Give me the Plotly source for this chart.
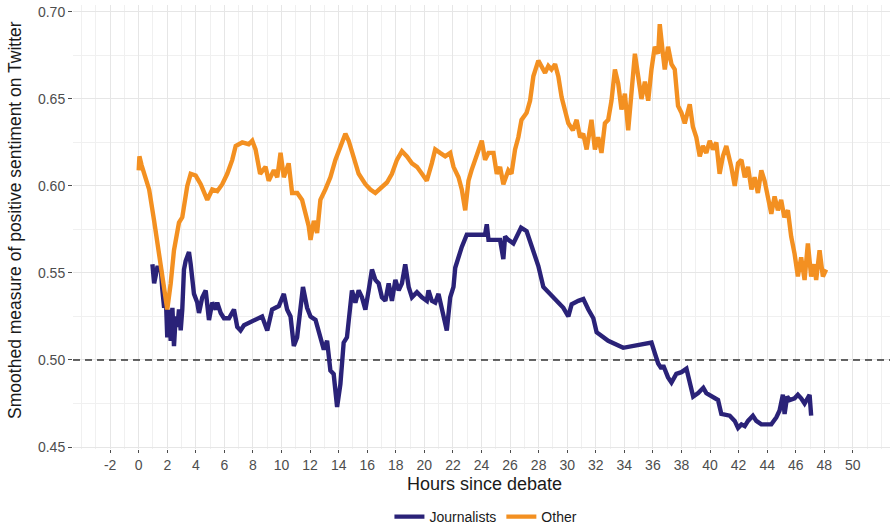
import plotly.graph_objects as go

# ---- data ----
other_hours = [0.00, 0.05, 0.20, 0.38, 0.73, 1.08, 1.43, 1.78, 2.00, 2.24, 2.47, 2.82, 3.05, 3.40, 3.64, 3.99,
               4.34, 4.80, 5.15, 5.50, 5.85, 6.20, 6.55, 6.79, 7.25, 7.70, 7.95, 8.18, 8.50, 8.88, 9.10, 9.46,
               9.70, 9.93, 10.16, 10.50, 10.74, 11.10, 11.44, 11.56, 11.90, 12.03, 12.26, 12.49, 12.72, 13.07,
               13.42, 13.77, 14.12, 14.47, 14.70, 15.05, 15.40, 15.87, 16.22, 16.57, 17.03, 17.38, 17.73, 18.08,
               18.43, 18.78, 19.13, 19.48, 19.83, 20.17, 20.52, 20.76, 21.10, 21.46, 21.81, 22.04, 22.39, 22.62,
               22.86, 23.09, 23.30, 23.67, 24.02, 24.25, 24.49, 24.84, 25.07, 25.30, 25.53, 25.88, 26.10, 26.35,
               26.58, 26.80, 27.16, 27.40, 27.63, 27.98, 28.21, 28.45, 28.68, 28.90, 29.15, 29.38, 29.61, 29.85,
               30.08, 30.40, 30.66, 30.90, 31.12, 31.36, 31.60, 31.70, 31.94, 32.17, 32.40, 32.64, 32.87, 33.10,
               33.34, 33.57, 33.80, 34.04, 34.27, 34.50, 34.74, 34.97, 35.20, 35.44, 35.67, 35.90, 36.13, 36.37,
               36.48, 36.70, 36.83, 37.06, 37.30, 37.53, 37.76, 38.00, 38.23, 38.58, 38.80, 39.04, 39.28, 39.50,
               39.74, 39.98, 40.20, 40.44, 40.67, 40.90, 41.14, 41.49, 41.73, 41.96, 42.20, 42.43, 42.66, 42.90,
               43.12, 43.35, 43.59, 43.82, 44.05, 44.29, 44.52, 44.75, 44.98, 45.20, 45.45, 45.68, 45.92, 46.15,
               46.38, 46.62, 46.85, 47.08, 47.30, 47.43, 47.67, 47.90, 48.13]
other_values = [0.609, 0.617, 0.612, 0.607, 0.598, 0.580, 0.561, 0.542, 0.529, 0.544, 0.563, 0.579, 0.582, 0.600, 0.607, 0.606,
                0.601, 0.592, 0.598, 0.597, 0.601, 0.607, 0.615, 0.623, 0.625, 0.624, 0.626, 0.621, 0.607, 0.611, 0.603, 0.609,
                0.605, 0.619, 0.605, 0.613, 0.596, 0.596, 0.592, 0.588, 0.577, 0.569, 0.580, 0.573, 0.592, 0.598,
                0.605, 0.615, 0.623, 0.630, 0.626, 0.617, 0.607, 0.601, 0.598, 0.596, 0.599, 0.602, 0.607, 0.615,
                0.620, 0.617, 0.613, 0.611, 0.607, 0.603, 0.613, 0.621, 0.619, 0.617, 0.619, 0.611, 0.605, 0.598,
                0.586, 0.603, 0.609, 0.617, 0.626, 0.615, 0.619, 0.619, 0.607, 0.611, 0.601, 0.609, 0.607, 0.621,
                0.628, 0.638, 0.642, 0.649, 0.663, 0.672, 0.669, 0.665, 0.669, 0.667, 0.670, 0.663, 0.651, 0.642,
                0.636, 0.632, 0.638, 0.628, 0.630, 0.621, 0.634, 0.638, 0.621, 0.628, 0.619, 0.636, 0.638, 0.649,
                0.667, 0.659, 0.644, 0.653, 0.632, 0.653, 0.676, 0.663, 0.650, 0.660, 0.649, 0.667, 0.680, 0.676,
                0.693, 0.676, 0.667, 0.680, 0.670, 0.667, 0.646, 0.642, 0.636, 0.647, 0.634, 0.628, 0.617, 0.623,
                0.619, 0.626, 0.621, 0.625, 0.607, 0.617, 0.623, 0.611, 0.600, 0.613, 0.615, 0.605, 0.611, 0.598,
                0.605, 0.596, 0.609, 0.603, 0.594, 0.584, 0.594, 0.586, 0.592, 0.582, 0.586, 0.571, 0.561, 0.548,
                0.559, 0.546, 0.567, 0.548, 0.555, 0.546, 0.563, 0.548, 0.552]

journalists_hours = [0.96, 1.08, 1.30, 1.54, 1.66, 1.78, 1.90, 2.00, 2.12, 2.24, 2.36, 2.47, 2.59, 2.71, 2.82, 2.94,
                     3.05, 3.17, 3.29, 3.52, 3.64, 3.87, 4.10, 4.22, 4.45, 4.69, 4.92, 5.15, 5.39, 5.50, 5.74, 5.97,
                     6.32, 6.67, 6.90, 7.13, 7.37, 7.95, 8.64, 9.00, 9.34, 9.81, 10.16, 10.39, 10.63, 10.86, 11.09,
                     11.50, 11.79, 12.03, 12.38, 12.72, 12.96, 13.19, 13.42, 13.65, 13.89, 14.12, 14.35, 14.58, 14.82,
                     14.93, 15.17, 15.40, 15.63, 15.87, 16.10, 16.33, 16.57, 16.80, 17.03, 17.27, 17.50, 17.73, 17.97,
                     18.20, 18.43, 18.66, 18.90, 19.13, 19.48, 19.83, 20.17, 20.29, 20.52, 20.76, 20.99, 21.22, 21.57,
                     21.81, 22.04, 22.16, 22.39, 22.62, 22.97, 24.25, 24.37, 24.49, 25.30, 25.53, 25.65, 25.88, 26.23,
                     26.46, 26.77, 27.16, 27.51, 27.98, 28.33, 28.90, 29.38, 29.73, 30.08, 30.31, 30.78, 31.13, 31.48,
                     31.83, 32.06, 32.87, 33.92, 35.90, 36.13, 36.37, 36.60, 36.72, 37.06, 37.30, 37.64, 38.00, 38.35,
                     38.58, 38.82, 39.17, 39.53, 39.74, 40.21, 40.56, 40.79, 41.38, 41.73, 41.96, 42.20, 42.43, 42.66,
                     43.00, 43.24, 43.59, 44.29, 44.64, 44.87, 45.10, 45.22, 45.40, 45.57, 45.92, 46.15, 46.38, 46.62,
                     46.97, 47.08]
journalists_values = [0.555, 0.544, 0.553, 0.553, 0.540, 0.530, 0.536, 0.513, 0.529, 0.511, 0.530, 0.508, 0.525, 0.519, 0.529, 0.517,
                      0.529, 0.552, 0.557, 0.562, 0.555, 0.538, 0.533, 0.527, 0.536, 0.540, 0.523, 0.533, 0.529, 0.533, 0.527, 0.524,
                      0.524, 0.529, 0.519, 0.517, 0.520, 0.522, 0.525, 0.517, 0.529, 0.531, 0.538, 0.529, 0.525, 0.508, 0.513,
                      0.542, 0.530, 0.525, 0.523, 0.513, 0.506, 0.511, 0.494, 0.492, 0.473, 0.486, 0.510, 0.513, 0.533,
                      0.540, 0.533, 0.540, 0.536, 0.529, 0.540, 0.552, 0.546, 0.544, 0.536, 0.534, 0.544, 0.534, 0.546,
                      0.540, 0.544, 0.555, 0.542, 0.536, 0.539, 0.536, 0.534, 0.540, 0.534, 0.533, 0.538, 0.529, 0.517,
                      0.536, 0.542, 0.553, 0.559, 0.565, 0.572, 0.572, 0.578, 0.569, 0.569, 0.558, 0.571, 0.569, 0.567,
                      0.571, 0.576, 0.574, 0.565, 0.554, 0.542, 0.537, 0.533, 0.530, 0.525, 0.532, 0.534, 0.535, 0.529,
                      0.524, 0.516, 0.511, 0.507, 0.510, 0.504, 0.498, 0.495, 0.497, 0.490, 0.487, 0.492, 0.493, 0.495,
                      0.487, 0.479, 0.481, 0.484, 0.481, 0.479, 0.477, 0.469, 0.468, 0.465, 0.461, 0.463, 0.462, 0.465,
                      0.468, 0.465, 0.463, 0.463, 0.467, 0.471, 0.480, 0.469, 0.479, 0.477, 0.478, 0.480, 0.478, 0.475,
                      0.480, 0.468]

reference_level = 0.5
x_ticks = list(range(-2, 51, 2))
y_ticks = [0.45, 0.50, 0.55, 0.60, 0.65, 0.70]
y_tick_labels = ["0.45", "0.50", "0.55", "0.60", "0.65", "0.70"]

NAVY = "#2A2278"
ORANGE = "#F39021"
FONT = "Liberation Sans, Arial, sans-serif"
X_RANGE = [-4.6, 52.6]

fig = go.Figure()

# dashed reference line across the full x range
fig.add_trace(go.Scatter(
    x=X_RANGE, y=[reference_level, reference_level], mode="lines",
    line=dict(color="#333333", width=1.6, dash="7px,5px"),
    showlegend=False, hoverinfo="skip"))

fig.add_trace(go.Scatter(
    x=journalists_hours, y=journalists_values, mode="lines", name="Journalists",
    line=dict(color=NAVY, width=4.4)))
fig.add_trace(go.Scatter(
    x=other_hours, y=other_values, mode="lines", name="Other",
    line=dict(color=ORANGE, width=4.4)))

fig.update_layout(
    width=890, height=527,
    margin=dict(l=73, r=0, t=5, b=78, autoexpand=False),
    paper_bgcolor="white", plot_bgcolor="white",
    font=dict(family=FONT, size=14, color="#4d4d4d"),
    showlegend=True,
    legend=dict(orientation="h", x=0.546, xref="container", xanchor="center",
                y=0.019, yref="container", yanchor="middle",
                font=dict(size=14, color="#1a1a1a"), itemwidth=30, traceorder="normal"),
    xaxis=dict(
        range=X_RANGE, tickmode="array", tickvals=x_ticks,
        ticktext=[str(v) for v in x_ticks], automargin=False,
        showgrid=True, gridcolor="#e6e6e6", gridwidth=1,
        minor=dict(dtick=1, tick0=0, showgrid=True, gridcolor="#f0f0f0", gridwidth=1),
        zeroline=False, showline=False,
        ticks="outside", ticklen=3, tickcolor="#4d4d4d", tickwidth=1,
        tickfont=dict(size=14, color="#4d4d4d"),
    ),
    yaxis=dict(
        range=[0.44885, 0.704], tickmode="array", tickvals=y_ticks, ticktext=y_tick_labels,
        automargin=False,
        showgrid=True, gridcolor="#e6e6e6", gridwidth=1,
        minor=dict(dtick=0.025, tick0=0.45, showgrid=True, gridcolor="#f0f0f0", gridwidth=1),
        zeroline=False, showline=False,
        ticks="outside", ticklen=4, tickcolor="#4d4d4d", tickwidth=1,
        tickfont=dict(size=14, color="#4d4d4d"),
    ),
    annotations=[
        dict(text="Hours since debate", xref="paper", yref="paper", x=0.504, y=-0.079,
             xanchor="center", yanchor="middle", showarrow=False,
             font=dict(size=18, color="#1a1a1a", family=FONT)),
        dict(text="Smoothed measure of positive sentiment on Twitter", xref="paper", yref="paper",
             x=-0.071, y=0.516, xanchor="center", yanchor="middle", textangle=-90, showarrow=False,
             font=dict(size=17.5, color="#1a1a1a", family=FONT)),
    ],
)

fig.write_html("out.html",
               config={"displayModeBar": False},
               post_script="document.body.style.margin='0';document.body.style.overflow='hidden';")
